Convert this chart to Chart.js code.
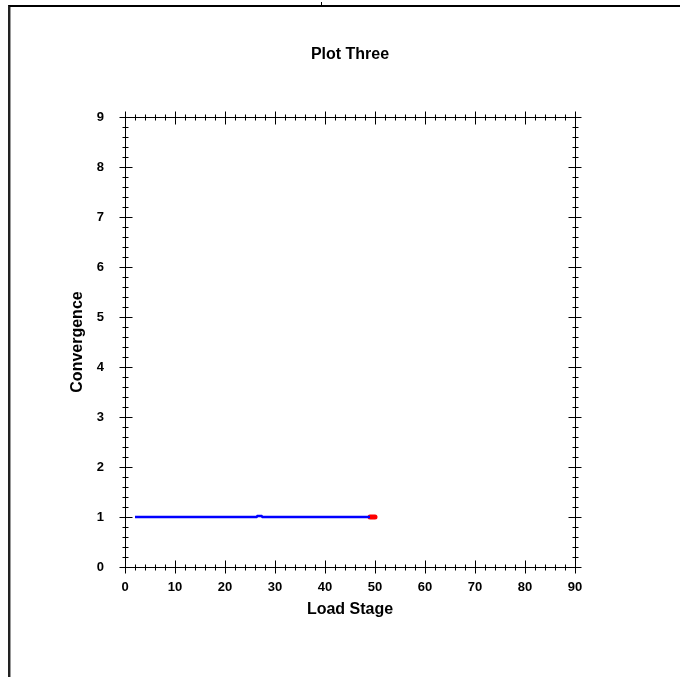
<!DOCTYPE html>
<html>
<head>
<meta charset="utf-8">
<title>Plot Three</title>
<script src="https://cdn.jsdelivr.net/npm/chart.js@4/dist/chart.umd.min.js"></script>
<style>
  html, body { margin: 0; padding: 0; background: #fff; width: 680px; height: 677px; overflow: hidden; }
  #frame { position: absolute; left: 8px; top: 5px; right: 0; bottom: 0; border-top: 2px solid #000; border-left: 2px solid #222; box-shadow: inset 1px 0 0 #999; }
  #notch { position: absolute; left: 321px; top: 2px; width: 1px; height: 4px; background: #000; }
  #wrap { position: absolute; left: 0; top: 0; width: 680px; height: 677px; }
</style>
</head>
<body>
<div id="frame"></div>
<div id="notch"></div>
<div id="wrap"><canvas id="plotThree" width="680" height="677"></canvas></div>
<script>
// series
const loadStage = [2, 26.3, 26.5, 27.3, 27.5, 49];
const convergence = [1, 1, 1.02, 1.02, 1, 1];
// red end marker
const lastStage = [49, 50];
const lastConvergence = [1, 1];

// axis ticks
const xTicks = [0, 10, 20, 30, 40, 50, 60, 70, 80, 90];
const yTicks = [0, 1, 2, 3, 4, 5, 6, 7, 8, 9];
const xMinorPerMajor = 5;
const yMinorPerMajor = 5;

Chart.defaults.font.family = '"Liberation Sans", Arial, sans-serif';
Chart.defaults.color = '#000';

// box around plot with ticks crossing all four sides
const boxTicks = {
    id: 'boxTicks',
    afterDraw(chart) {
        const { ctx, chartArea: a, scales: { x, y } } = chart;
        const L = Math.round(a.left) + 0.5, R = Math.round(a.right) + 0.5;
        const T = Math.round(a.top) + 0.5, B = Math.round(a.bottom) + 0.5;
        ctx.save();
        ctx.strokeStyle = '#000';
        ctx.lineWidth = 1;
        ctx.beginPath();
        ctx.rect(L, T, R - L, B - T);

        // x ticks (bottom and top)
        const xStep = (xTicks[1] - xTicks[0]) / xMinorPerMajor;
        const xCount = (xTicks[xTicks.length - 1] - xTicks[0]) / xStep;
        for (let i = 0; i <= xCount; i++) {
            const v = xTicks[0] + i * xStep;
            const px = Math.round(x.getPixelForValue(v)) + 0.5;
            const major = i % xMinorPerMajor === 0;
            const inn = major ? 7 : 3, out = major ? 6 : 3;
            ctx.moveTo(px, B - inn); ctx.lineTo(px, B + out);
            ctx.moveTo(px, T - out); ctx.lineTo(px, T + inn);
        }

        // y ticks (left and right)
        const yStep = (yTicks[1] - yTicks[0]) / yMinorPerMajor;
        const yCount = Math.round((yTicks[yTicks.length - 1] - yTicks[0]) / yStep);
        for (let i = 0; i <= yCount; i++) {
            const v = yTicks[0] + i * yStep;
            const py = Math.round(y.getPixelForValue(v)) + 0.5;
            const major = i % yMinorPerMajor === 0;
            const inn = major ? 7 : 3, out = major ? 6 : 3;
            ctx.moveTo(L - out, py); ctx.lineTo(L + inn, py);
            ctx.moveTo(R - inn, py); ctx.lineTo(R + out, py);
        }
        ctx.stroke();
        ctx.restore();
    }
};

const ctx = document.getElementById('plotThree').getContext('2d');
new Chart(ctx, {
    type: 'line',
    data: {
        datasets: [{
            label: 'Convergence',
            data: loadStage.map((s, i) => ({ x: s, y: convergence[i] })),
            borderColor: '#0000ff',
            borderWidth: 2.5,
            pointRadius: 0,
            tension: 0
        }, {
            label: 'Last stage',
            data: lastStage.map((s, i) => ({ x: s, y: lastConvergence[i] })),
            borderColor: '#ff0000',
            borderWidth: 5,
            borderCapStyle: 'round',
            pointRadius: 0,
            tension: 0
        }]
    },
    options: {
        responsive: false,
        animation: false,
        layout: {
            padding: { left: 10, right: 105, top: 0, bottom: 50 }
        },
        plugins: {
            legend: { display: false },
            tooltip: { enabled: false },
            title: {
                display: true,
                text: 'Plot Three',
                fullSize: false,
                color: '#000',
                font: { size: 16, weight: 'bold' },
                padding: { top: 45, bottom: 52.8 }
            }
        },
        scales: {
            x: {
                type: 'linear',
                min: 0,
                max: 90,
                grid: { display: false, drawTicks: false },
                border: { display: false },
                afterBuildTicks: scale => { scale.ticks = xTicks.map(v => ({ value: v })); },
                afterFit: scale => { scale.height = 60; },
                ticks: {
                    padding: 13,
                    color: '#000',
                    font: { size: 13, weight: 'bold' },
                    maxRotation: 0
                },
                title: {
                    display: true,
                    text: 'Load Stage',
                    color: '#000',
                    font: { size: 16, weight: 'bold' },
                    padding: { top: 0, bottom: 7.5 }
                }
            },
            y: {
                type: 'linear',
                min: 0,
                max: 9,
                grid: { display: false, drawTicks: false },
                border: { display: false },
                afterBuildTicks: scale => { scale.ticks = yTicks.map(v => ({ value: v })); },
                afterFit: scale => { scale.width = 115; },
                ticks: {
                    padding: 21,
                    color: '#000',
                    font: { size: 13, weight: 'bold' }
                },
                title: {
                    display: true,
                    text: 'Convergence',
                    color: '#000',
                    font: { size: 16, weight: 'bold' },
                    padding: { top: 57.5, bottom: 0 }
                }
            }
        }
    },
    plugins: [boxTicks]
});
</script>
</body>
</html>
